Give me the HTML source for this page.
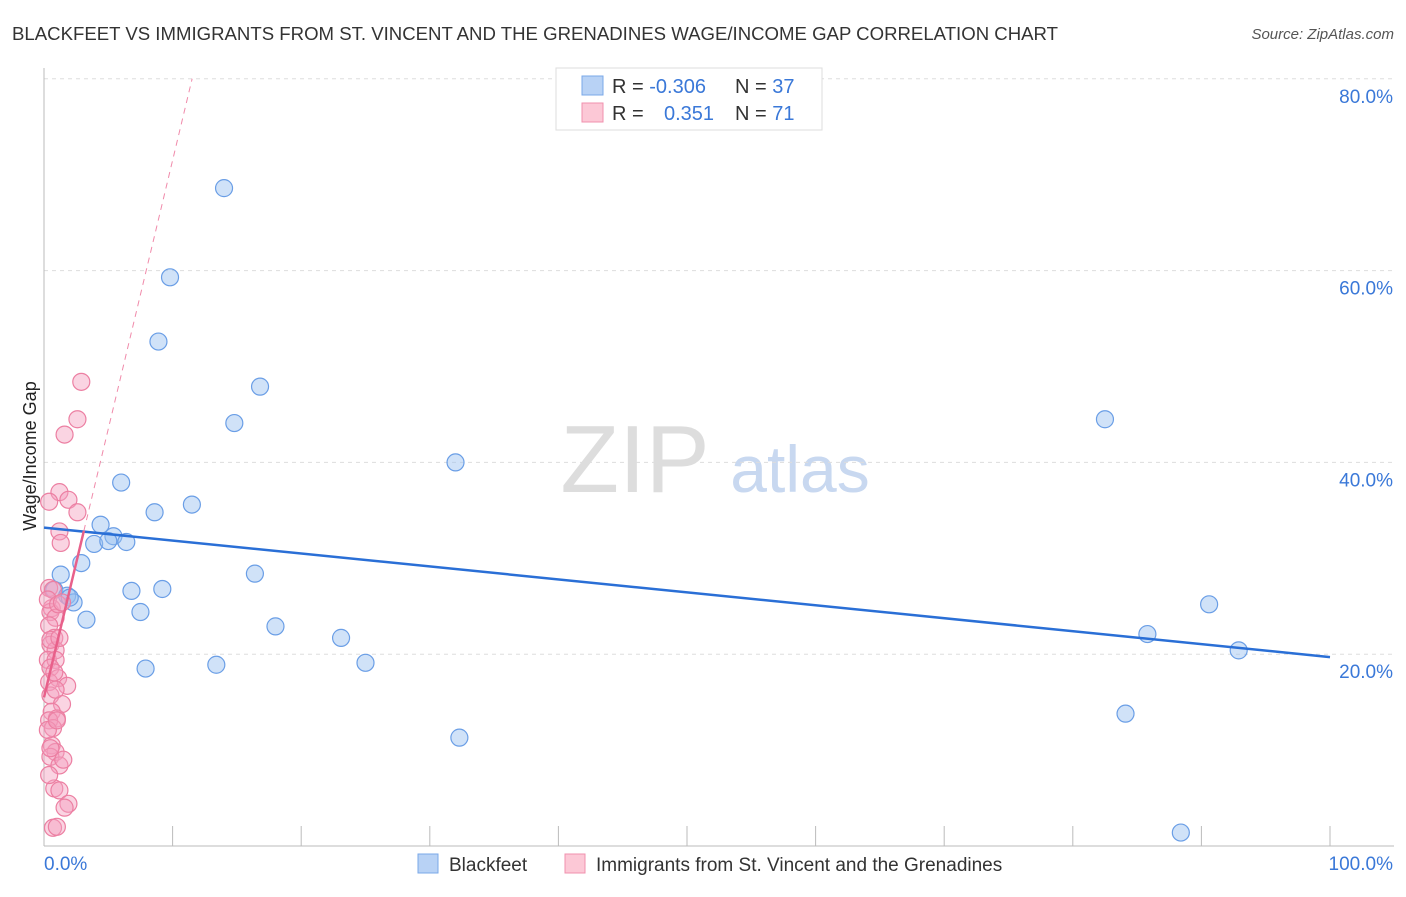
<!DOCTYPE html>
<html><head><meta charset="utf-8"><style>
body{margin:0;background:#fff;font-family:"Liberation Sans",sans-serif;}
svg text{font-family:"Liberation Sans",sans-serif;}
</style></head><body>
<svg id="c" width="1406" height="892" xmlns="http://www.w3.org/2000/svg">
<text x="12" y="40" font-size="18" fill="#333" textLength="1046" lengthAdjust="spacingAndGlyphs">BLACKFEET VS IMMIGRANTS FROM ST. VINCENT AND THE GRENADINES WAGE/INCOME GAP CORRELATION CHART</text>
<text x="1394" y="39" font-size="15" fill="#555" font-style="italic" text-anchor="end">Source: ZipAtlas.com</text>
<text x="36" y="456" font-size="18" fill="#222" text-anchor="middle" transform="rotate(-90 36 456)">Wage/Income Gap</text>
<text x="635" y="492" font-size="96" fill="#ddd" font-family="Liberation Serif" text-anchor="middle">ZIP</text>
<text x="800" y="492" font-size="66" fill="#c8d8f0" text-anchor="middle">atlas</text>
<g id="grid"></g><g id="axes"></g><g id="marks"></g>
<g>
<rect x="556" y="68" width="266" height="62" fill="#fff" stroke="#ddd"/>
<rect x="582" y="76" width="21" height="19" fill="#b8d2f5" stroke="#7aa8e8"/>
<text x="612" y="93" font-size="20" fill="#333">R = <tspan fill="#3a78d8">-0.306</tspan></text>
<text x="735" y="93" font-size="20" fill="#333">N = <tspan fill="#3a78d8">37</tspan></text>
<rect x="582" y="103" width="21" height="19" fill="#fcc8d6" stroke="#f090ae"/>
<text x="612" y="120" font-size="20" fill="#333">R = </text>
<text x="664" y="120" font-size="20" fill="#3a78d8">0.351</text>
<text x="735" y="120" font-size="20" fill="#333">N = <tspan fill="#3a78d8"> 71</tspan></text>
</g>
<g>
<rect x="418" y="854" width="20" height="19" fill="#b8d2f5" stroke="#7aa8e8"/>
<text x="449" y="871" font-size="19" fill="#333">Blackfeet</text>
<rect x="565" y="854" width="20" height="19" fill="#fcc8d6" stroke="#f090ae"/>
<text x="596" y="871" font-size="19" fill="#333">Immigrants from St. Vincent and the Grenadines</text>
</g>
</svg>
<script>
const yTicks=[20,40,60,80];
const yTickLabels=["20.0%","40.0%","60.0%","80.0%"];
const xTickLabels=["0.0%","100.0%"];
const blueX=[14.0,9.8,8.9,16.8,14.8,32.0,82.5,6.0,11.5,8.6,4.4,5.4,3.9,5.0,6.4,2.9,1.3,0.8,1.8,2.3,3.3,6.8,9.2,7.5,16.4,18.0,23.1,25.0,13.4,7.9,32.3,85.8,90.6,92.9,84.1,88.4,2.0];
const blueY=[68.6,59.3,52.6,47.9,44.1,40.0,44.5,37.9,35.6,34.8,33.5,32.3,31.5,31.8,31.7,29.5,28.3,26.7,26.1,25.4,23.6,26.6,26.8,24.4,28.4,22.9,21.7,19.1,18.9,18.5,11.3,22.1,25.2,20.4,13.8,1.4,25.9];
const pinkX=[2.9,2.6,1.6,1.2,1.9,0.4,2.6,1.2,1.3,0.6,0.5,0.9,0.4,0.8,0.5,0.9,0.3,0.9,0.5,1.1,0.4,1.8,0.5,1.4,0.6,1.0,0.4,0.7,0.6,0.9,0.5,1.2,1.5,0.8,1.2,1.9,1.6,0.7,1.0,0.4,0.7,0.3,1.1,0.5,0.9,0.3,0.5,0.4,1.2,1.0,1.4,0.8];
const pinkY=[48.4,44.5,42.9,36.9,36.1,35.9,34.8,32.8,31.6,24.8,24.4,23.8,23.0,21.7,21.0,20.4,19.4,19.4,18.6,17.5,17.1,16.7,15.7,14.8,14.0,13.3,13.1,12.3,10.5,9.8,9.3,8.4,9.0,6.0,5.8,4.4,4.0,1.9,2.0,26.9,26.7,25.7,25.2,21.5,16.3,12.1,10.2,7.4,21.7,13.1,25.4,18.1];
const blueTrend=[33.2,19.7];
const pinkTrend=[15.5,5.6];
const X0=44,X1=1330,Y0=846,PY=9.59;
const sx=v=>X0+(X1-X0)*v/100, sy=v=>Y0-v*PY;
const NS="http://www.w3.org/2000/svg";
function mk(p,t,a){const e=document.createElementNS(NS,t);for(const k in a)e.setAttribute(k,a[k]);p.appendChild(e);return e;}
const grid=document.getElementById('grid'),axes=document.getElementById('axes'),marks=document.getElementById('marks');
yTicks.forEach((t,i)=>{
 const l=mk(grid,'line',{x1:X0,x2:1394,y1:sy(t),y2:sy(t),stroke:'#ddd','stroke-dasharray':'4 4'});
 
 
 const tx=mk(axes,'text',{x:1393,y:sy(t)+24,'font-size':19,fill:'#3a78d8','text-anchor':'end'});
 tx.textContent=yTickLabels[i];
 
 
});
const la=mk(axes,'line',{x1:X0,x2:X0,y1:68,y2:Y0,stroke:'#bbb'});


const lb=mk(axes,'line',{x1:X0,x2:1394,y1:Y0,y2:Y0,stroke:'#bbb'});


for(let i=1;i<=10;i++){const t=mk(axes,'line',{x1:sx(i*10),x2:sx(i*10),y1:826,y2:Y0,stroke:'#bbb'});
 
 }
[[44,'start'],[1393,'end']].forEach((p,i)=>{const t=mk(axes,'text',{x:p[0],y:870,'font-size':19,fill:'#3a78d8','text-anchor':p[1]});t.textContent=xTickLabels[i];
 
 });
blueX.forEach((v,i)=>{const c=mk(marks,'circle',{cx:sx(v),cy:sy(blueY[i]),r:8.5,fill:'rgba(150,190,240,0.45)',stroke:'#6a9ee6','stroke-width':1.2});
 
 });
pinkX.forEach((v,i)=>{const c=mk(marks,'circle',{cx:sx(v),cy:sy(pinkY[i]),r:8.5,fill:'rgba(245,160,190,0.45)',stroke:'#ec7fa2','stroke-width':1.2});
 
 });
const bt=mk(marks,'line',{x1:sx(0),y1:sy(blueTrend[0]),x2:sx(100),y2:sy(blueTrend[1]),stroke:'#2a6fd6','stroke-width':2.5});


const xe=(80-pinkTrend[0])/pinkTrend[1];
const pd=mk(marks,'line',{x1:sx(3.1),y1:sy(pinkTrend[0]+pinkTrend[1]*3.1),x2:sx(xe),y2:sy(80),stroke:'#f08aaa','stroke-width':1,'stroke-dasharray':'6 5'});


const pt=mk(marks,'line',{x1:sx(0),y1:sy(pinkTrend[0]),x2:sx(3.1),y2:sy(pinkTrend[0]+pinkTrend[1]*3.1),stroke:'#e8608a','stroke-width':2.5});


</script>
</body></html>
